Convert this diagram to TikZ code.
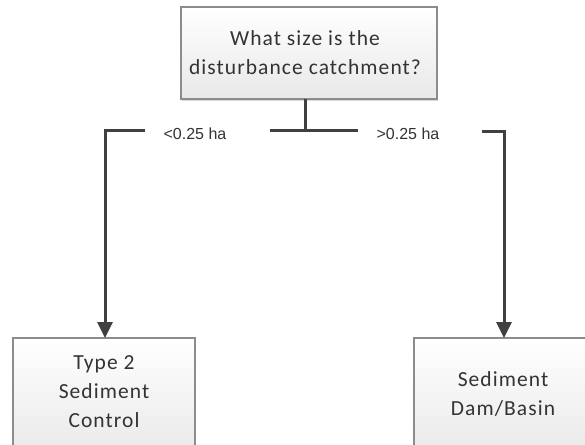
\documentclass[tikz,border=0pt]{standalone}
\usepackage{fontspec}
\setmainfont{Carlito}[LetterSpace=5]
\newfontfamily\lblfont{Liberation Sans}
\usetikzlibrary{arrows.meta,shadows}
\definecolor{linec}{HTML}{404040}
\definecolor{boxline}{HTML}{8C8C8C}
\tikzset{
  box/.style={draw=boxline, line width=1.2pt, top color=white, bottom color=black!9,
    drop shadow={shadow xshift=1pt, shadow yshift=-1.5pt, fill=black!25, opacity=.6}},
  boxtext/.style={font=\fontsize{21.5}{29}\selectfont, text=black!80, align=center},
  conn/.style={draw=linec, line width=3pt},
  arr/.style={conn, -{Triangle[length=16pt,width=15pt]}},
  lbl/.style={font=\lblfont\fontsize{16}{18}\selectfont, text=black!80, inner sep=0pt}
}
\begin{document}
\begin{tikzpicture}[x=1pt,y=-1pt]
\useasboundingbox (0,0) rectangle (585,444);
\clip (0,0) rectangle (585,444);
\fill[white] (0,0) rectangle (585,444);
% boxes
\path[box] (181,7) rectangle (437,99);
\path[box] (13,338) rectangle (195,460);
\path[box] (414,338) rectangle (600,460);
\node[boxtext] (q) at (305,53) {What size is the\\disturbance catchment?};
\node[boxtext] (t2) at (104,392) {Type 2\\Sediment\\Control};
\node[boxtext] (sd) at (503,394) {Sediment\\Dam/Basin};
\coordinate (qb) at (305,99);
\coordinate (tt) at (105,338);
\coordinate (st) at (504,338);
% connectors
\coordinate (j) at (305,130);
\coordinate (jl) at (270,130);
\coordinate (jr) at (358,130);
\coordinate (ls) at (145,130);
\coordinate (lc) at (105,130);
\coordinate (rs) at (482,131);
\coordinate (rc) at (504,131);
\draw[conn] (qb) -- (j);
\draw[conn] (jl) -- (jr);
\draw[arr] (ls) -- (lc) -- (tt);
\draw[arr] (rs) -- (rc) -- (st);
\node[lbl] (ll) at (195,134) {<0.25 ha};
\node[lbl] (rl) at (408,134) {>0.25 ha};
\end{tikzpicture}
\end{document}
